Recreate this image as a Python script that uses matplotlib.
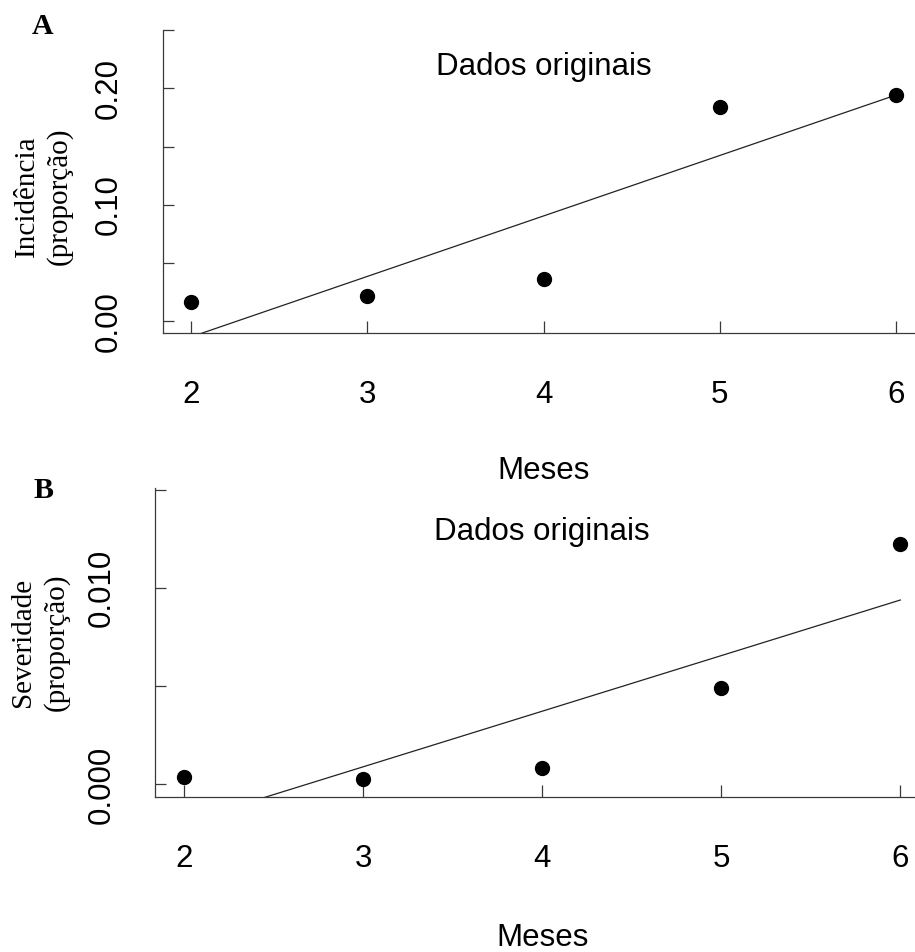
import numpy as np
import matplotlib
matplotlib.use("Agg")
import matplotlib.pyplot as plt

# ---- data ----
meses = [2, 3, 4, 5, 6]
incidencia = [0.0163, 0.0214, 0.0363, 0.1837, 0.1945]
severidade = [0.00039, 0.00027, 0.00084, 0.00489, 0.01226]

x_ticks = [2, 3, 4, 5, 6]
inc_ticks = [0.00, 0.05, 0.10, 0.15, 0.20, 0.25]
inc_labels = ["0.00", "", "0.10", "", "0.20", ""]
sev_ticks = [0.000, 0.005, 0.010, 0.015]
sev_labels = ["0.000", "", "0.010", ""]

panel_title = "Dados originais"
xlabel = "Meses"
ylabel_a = "Incidência\n(proporção)"
ylabel_b = "Severidade\n(proporção)"

SANS = ["Liberation Sans", "DejaVu Sans"]
SERIF = ["Liberation Serif", "DejaVu Serif"]
plt.rcParams["font.family"] = SANS

W, H = 915, 952
fig = plt.figure(figsize=(W / 100, H / 100), dpi=100)

AX_COLOR = "#3a3a3a"
FS = 22.5


def panel(rect, x, y, ylim, yticks, ylabels, title_y, ylabel, ylabel_pos, letter, letter_pos, labelpad):
    ax = fig.add_axes(rect)
    ax.set_xlim(1.84, 6.16)
    ax.set_ylim(*ylim)
    for s in ["top", "right"]:
        ax.spines[s].set_visible(False)
    for s in ["left", "bottom"]:
        ax.spines[s].set_color(AX_COLOR)
        ax.spines[s].set_linewidth(0.9)
    ax.scatter(x, y, s=100, color="black", zorder=3, clip_on=False)
    coef = np.polyfit(x, y, 1)
    xl = np.array([min(x), max(x)])
    ax.plot(xl, np.polyval(coef, xl), color="#222222", lw=0.9)
    ax.set_xticks(x_ticks)
    ax.set_xticklabels([str(t) for t in x_ticks], fontsize=FS)
    ax.set_yticks(yticks)
    ax.set_yticklabels(ylabels, fontsize=FS, rotation=90, va="center")
    ax.tick_params(axis="x", direction="in", length=8.6, width=0.9, color=AX_COLOR, pad=34)
    ax.tick_params(axis="y", direction="in", length=8.0, width=0.9, color=AX_COLOR, pad=28)
    ax.set_xlabel(xlabel, fontsize=FS, labelpad=labelpad)
    ax.text(4, title_y, panel_title, fontsize=FS, ha="center", va="baseline")
    fig.text(ylabel_pos[0], ylabel_pos[1], ylabel, rotation=90, ha="center", va="center",
             multialignment="center", fontsize=21, family=SERIF, linespacing=1.3)
    fig.text(letter_pos[0], letter_pos[1], letter, ha="center", va="center",
             fontsize=21.5, family=SERIF, fontweight="bold")
    return ax


panel([0.1781, 0.6502, 0.8319, 0.3183], meses, incidencia, (-0.01, 0.25),
      inc_ticks, inc_labels, 0.2114, ylabel_a, (0.0475, 0.7934), "A", (0.0464, 0.9720), 33)
panel([0.1697, 0.1631, 0.8456, 0.3240], meses, severidade, (-0.00063, 0.0151),
      sev_ticks, sev_labels, 0.01245, ylabel_b, (0.0435, 0.3256), "B", (0.0475, 0.4850), 35)

fig.savefig("out.png", dpi=100)
